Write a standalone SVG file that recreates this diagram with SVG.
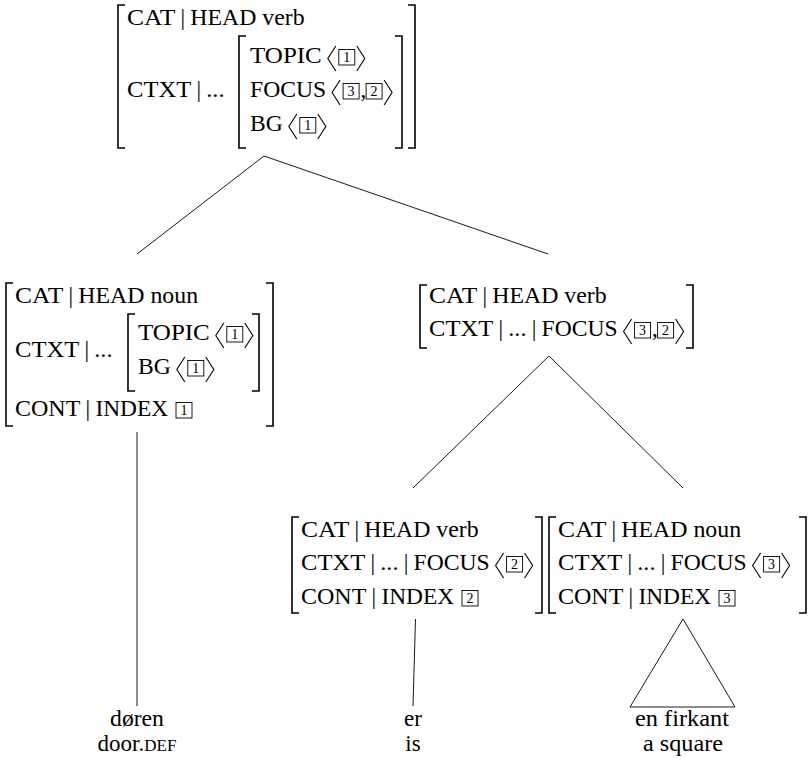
<svg xmlns="http://www.w3.org/2000/svg" xmlns:xlink="http://www.w3.org/1999/xlink" width="811" height="759" viewBox="0 0 811 759">
  <style>
    text { font-family: "Liberation Serif", "DejaVu Serif", "Times New Roman", serif; fill: #000; }
    .t { font-size: 23px; }
    .bar { text-anchor: middle; }
    .tag { font-size: 14px; text-anchor: middle; }
    .leaf { text-anchor: middle; }
    .br { fill: none; stroke: #000; stroke-width: 1.6; }
    .ang { fill: none; stroke: #000; stroke-width: 1.1; stroke-linejoin: miter; }
    .bx { fill: none; stroke: #000; stroke-width: 0.9; }
    .edge { fill: none; stroke: #000; stroke-width: 0.9; }
  </style>
  <defs>
    <!-- big angle delimiters, anchored at the row baseline -->
    <path id="la" class="ang" d="M8,-17 L0,-4.5 L8,8"/>
    <path id="ra" class="ang" d="M0,-17 L8,-4.5 L0,8"/>
    <!-- frame of a structure-sharing tag -->
    <rect id="bx" class="bx" x="0" y="-13.5" width="16" height="15.5"/>
  </defs>

  <!-- tree edges -->
  <g id="edges">
    <line class="edge" x1="264" y1="156" x2="137" y2="254"/>
    <line class="edge" x1="264" y1="156" x2="548" y2="254"/>
    <line class="edge" x1="549" y1="356" x2="413" y2="488"/>
    <line class="edge" x1="549" y1="356" x2="683" y2="488"/>
    <line class="edge" x1="137" y1="432" x2="137" y2="706"/>
    <line class="edge" x1="415.5" y1="619" x2="413" y2="706"/>
    <polygon class="edge" points="683,619 630,707 735,707"/>
  </g>

  <!-- root: CAT|HEAD verb, CTXT with TOPIC/FOCUS/BG -->
  <g id="n-root">
    <path class="br" d="M125,5 H118 V148 H125"/>
    <path class="br" d="M408,5 H415 V148 H408"/>
    <path class="br" d="M246,36 H239 V148 H246"/>
    <path class="br" d="M395,36 H402 V148 H395"/>
    <text class="t" x="127" y="25" textLength="48.3" lengthAdjust="spacingAndGlyphs">CAT</text>
    <text class="t bar" x="182.8" y="25">|</text>
    <text class="t" x="190.3" y="25" textLength="114.3" lengthAdjust="spacingAndGlyphs">HEAD verb</text>
    <text class="t" x="127" y="97" textLength="64.2" lengthAdjust="spacingAndGlyphs">CTXT</text>
    <text class="t bar" x="198.7" y="97">|</text>
    <text class="t" x="206.2" y="97" textLength="18.3" lengthAdjust="spacingAndGlyphs">...</text>
    <text class="t" x="250" y="63" textLength="71.8" lengthAdjust="spacingAndGlyphs">TOPIC</text>
    <use xlink:href="#la" x="327.8" y="63"/>
    <use xlink:href="#bx" x="338.8" y="63"/>
    <text class="tag" x="346.8" y="61.5">1</text>
    <use xlink:href="#ra" x="356.8" y="63"/>
    <text class="t" x="250" y="97" textLength="76.1" lengthAdjust="spacingAndGlyphs">FOCUS</text>
    <use xlink:href="#la" x="332.1" y="97"/>
    <use xlink:href="#bx" x="343.1" y="97"/>
    <text class="tag" x="351.1" y="95.5">3</text>
    <text class="t" x="360.6" y="97">,</text>
    <use xlink:href="#bx" x="366.1" y="97"/>
    <text class="tag" x="374.1" y="95.5">2</text>
    <use xlink:href="#ra" x="384.1" y="97"/>
    <text class="t" x="250" y="131" textLength="32.8" lengthAdjust="spacingAndGlyphs">BG</text>
    <use xlink:href="#la" x="288.8" y="131"/>
    <use xlink:href="#bx" x="299.8" y="131"/>
    <text class="tag" x="307.8" y="129.5">1</text>
    <use xlink:href="#ra" x="317.8" y="131"/>
  </g>

  <!-- left daughter: noun -->
  <g id="n-left">
    <path class="br" d="M13,283 H6 V426 H13"/>
    <path class="br" d="M266,283 H273 V426 H266"/>
    <path class="br" d="M135,314 H128 V391 H135"/>
    <path class="br" d="M252,314 H259 V391 H252"/>
    <text class="t" x="15" y="303" textLength="48.3" lengthAdjust="spacingAndGlyphs">CAT</text>
    <text class="t bar" x="70.8" y="303">|</text>
    <text class="t" x="78.3" y="303" textLength="119.8" lengthAdjust="spacingAndGlyphs">HEAD noun</text>
    <text class="t" x="15" y="357" textLength="64.2" lengthAdjust="spacingAndGlyphs">CTXT</text>
    <text class="t bar" x="86.7" y="357">|</text>
    <text class="t" x="94.2" y="357" textLength="18.3" lengthAdjust="spacingAndGlyphs">...</text>
    <text class="t" x="138" y="340" textLength="71.8" lengthAdjust="spacingAndGlyphs">TOPIC</text>
    <use xlink:href="#la" x="215.8" y="340"/>
    <use xlink:href="#bx" x="226.8" y="340"/>
    <text class="tag" x="234.8" y="338.5">1</text>
    <use xlink:href="#ra" x="244.8" y="340"/>
    <text class="t" x="138" y="374" textLength="32.8" lengthAdjust="spacingAndGlyphs">BG</text>
    <use xlink:href="#la" x="176.8" y="374"/>
    <use xlink:href="#bx" x="187.8" y="374"/>
    <text class="tag" x="195.8" y="372.5">1</text>
    <use xlink:href="#ra" x="205.8" y="374"/>
    <text class="t" x="15" y="416" textLength="65.4" lengthAdjust="spacingAndGlyphs">CONT</text>
    <text class="t bar" x="87.9" y="416">|</text>
    <text class="t" x="95.4" y="416" textLength="72.7" lengthAdjust="spacingAndGlyphs">INDEX</text>
    <use xlink:href="#bx" x="176" y="416"/>
    <text class="tag" x="184" y="414.5">1</text>
  </g>

  <!-- right daughter: verb phrase -->
  <g id="n-right">
    <path class="br" d="M427,285 H420 V348 H427"/>
    <path class="br" d="M686,285 H693 V348 H686"/>
    <text class="t" x="429" y="303" textLength="48.3" lengthAdjust="spacingAndGlyphs">CAT</text>
    <text class="t bar" x="484.8" y="303">|</text>
    <text class="t" x="492.3" y="303" textLength="114.3" lengthAdjust="spacingAndGlyphs">HEAD verb</text>
    <text class="t" x="429" y="336" textLength="64.2" lengthAdjust="spacingAndGlyphs">CTXT</text>
    <text class="t bar" x="500.7" y="336">|</text>
    <text class="t" x="508.2" y="336" textLength="18.3" lengthAdjust="spacingAndGlyphs">...</text>
    <text class="t bar" x="534" y="336">|</text>
    <text class="t" x="541.5" y="336" textLength="76.1" lengthAdjust="spacingAndGlyphs">FOCUS</text>
    <use xlink:href="#la" x="623.6" y="336"/>
    <use xlink:href="#bx" x="634.6" y="336"/>
    <text class="tag" x="642.6" y="334.5">3</text>
    <text class="t" x="652.1" y="336">,</text>
    <use xlink:href="#bx" x="657.6" y="336"/>
    <text class="tag" x="665.6" y="334.5">2</text>
    <use xlink:href="#ra" x="675.6" y="336"/>
  </g>

  <!-- verb: er -->
  <g id="n-er">
    <path class="br" d="M299,517 H292 V613 H299"/>
    <path class="br" d="M535,517 H542 V613 H535"/>
    <text class="t" x="301" y="537" textLength="48.3" lengthAdjust="spacingAndGlyphs">CAT</text>
    <text class="t bar" x="356.8" y="537">|</text>
    <text class="t" x="364.3" y="537" textLength="114.3" lengthAdjust="spacingAndGlyphs">HEAD verb</text>
    <text class="t" x="301" y="570" textLength="64.2" lengthAdjust="spacingAndGlyphs">CTXT</text>
    <text class="t bar" x="372.7" y="570">|</text>
    <text class="t" x="380.2" y="570" textLength="18.3" lengthAdjust="spacingAndGlyphs">...</text>
    <text class="t bar" x="406" y="570">|</text>
    <text class="t" x="413.5" y="570" textLength="76.1" lengthAdjust="spacingAndGlyphs">FOCUS</text>
    <use xlink:href="#la" x="495.6" y="570"/>
    <use xlink:href="#bx" x="506.6" y="570"/>
    <text class="tag" x="514.6" y="568.5">2</text>
    <use xlink:href="#ra" x="524.6" y="570"/>
    <text class="t" x="301" y="604" textLength="65.4" lengthAdjust="spacingAndGlyphs">CONT</text>
    <text class="t bar" x="373.9" y="604">|</text>
    <text class="t" x="381.4" y="604" textLength="72.7" lengthAdjust="spacingAndGlyphs">INDEX</text>
    <use xlink:href="#bx" x="462" y="604"/>
    <text class="tag" x="470" y="602.5">2</text>
  </g>

  <!-- noun phrase: en firkant -->
  <g id="n-firkant">
    <path class="br" d="M556,517 H549 V613 H556"/>
    <path class="br" d="M799,517 H806 V613 H799"/>
    <text class="t" x="558" y="537" textLength="48.3" lengthAdjust="spacingAndGlyphs">CAT</text>
    <text class="t bar" x="613.8" y="537">|</text>
    <text class="t" x="621.3" y="537" textLength="119.8" lengthAdjust="spacingAndGlyphs">HEAD noun</text>
    <text class="t" x="558" y="570" textLength="64.2" lengthAdjust="spacingAndGlyphs">CTXT</text>
    <text class="t bar" x="629.7" y="570">|</text>
    <text class="t" x="637.2" y="570" textLength="18.3" lengthAdjust="spacingAndGlyphs">...</text>
    <text class="t bar" x="663" y="570">|</text>
    <text class="t" x="670.5" y="570" textLength="76.1" lengthAdjust="spacingAndGlyphs">FOCUS</text>
    <use xlink:href="#la" x="752.6" y="570"/>
    <use xlink:href="#bx" x="763.6" y="570"/>
    <text class="tag" x="771.6" y="568.5">3</text>
    <use xlink:href="#ra" x="781.6" y="570"/>
    <text class="t" x="558" y="604" textLength="65.4" lengthAdjust="spacingAndGlyphs">CONT</text>
    <text class="t bar" x="630.9" y="604">|</text>
    <text class="t" x="638.4" y="604" textLength="72.7" lengthAdjust="spacingAndGlyphs">INDEX</text>
    <use xlink:href="#bx" x="719" y="604"/>
    <text class="tag" x="727" y="602.5">3</text>
  </g>

  <!-- leaves with glosses -->
  <g id="leaf-doren">
    <text class="t leaf" x="137" y="726" textLength="53.9" lengthAdjust="spacingAndGlyphs">døren</text>
    <text class="t leaf" x="137" y="751">door.<tspan font-size="17">DEF</tspan></text>
  </g>
  <g id="leaf-er">
    <text class="t leaf" x="413" y="726">er</text>
    <text class="t leaf" x="413" y="751">is</text>
  </g>
  <g id="leaf-firkant">
    <text class="t leaf" x="682" y="726" textLength="94" lengthAdjust="spacingAndGlyphs">en firkant</text>
    <text class="t leaf" x="683" y="751" textLength="80" lengthAdjust="spacingAndGlyphs">a square</text>
  </g>
</svg>
